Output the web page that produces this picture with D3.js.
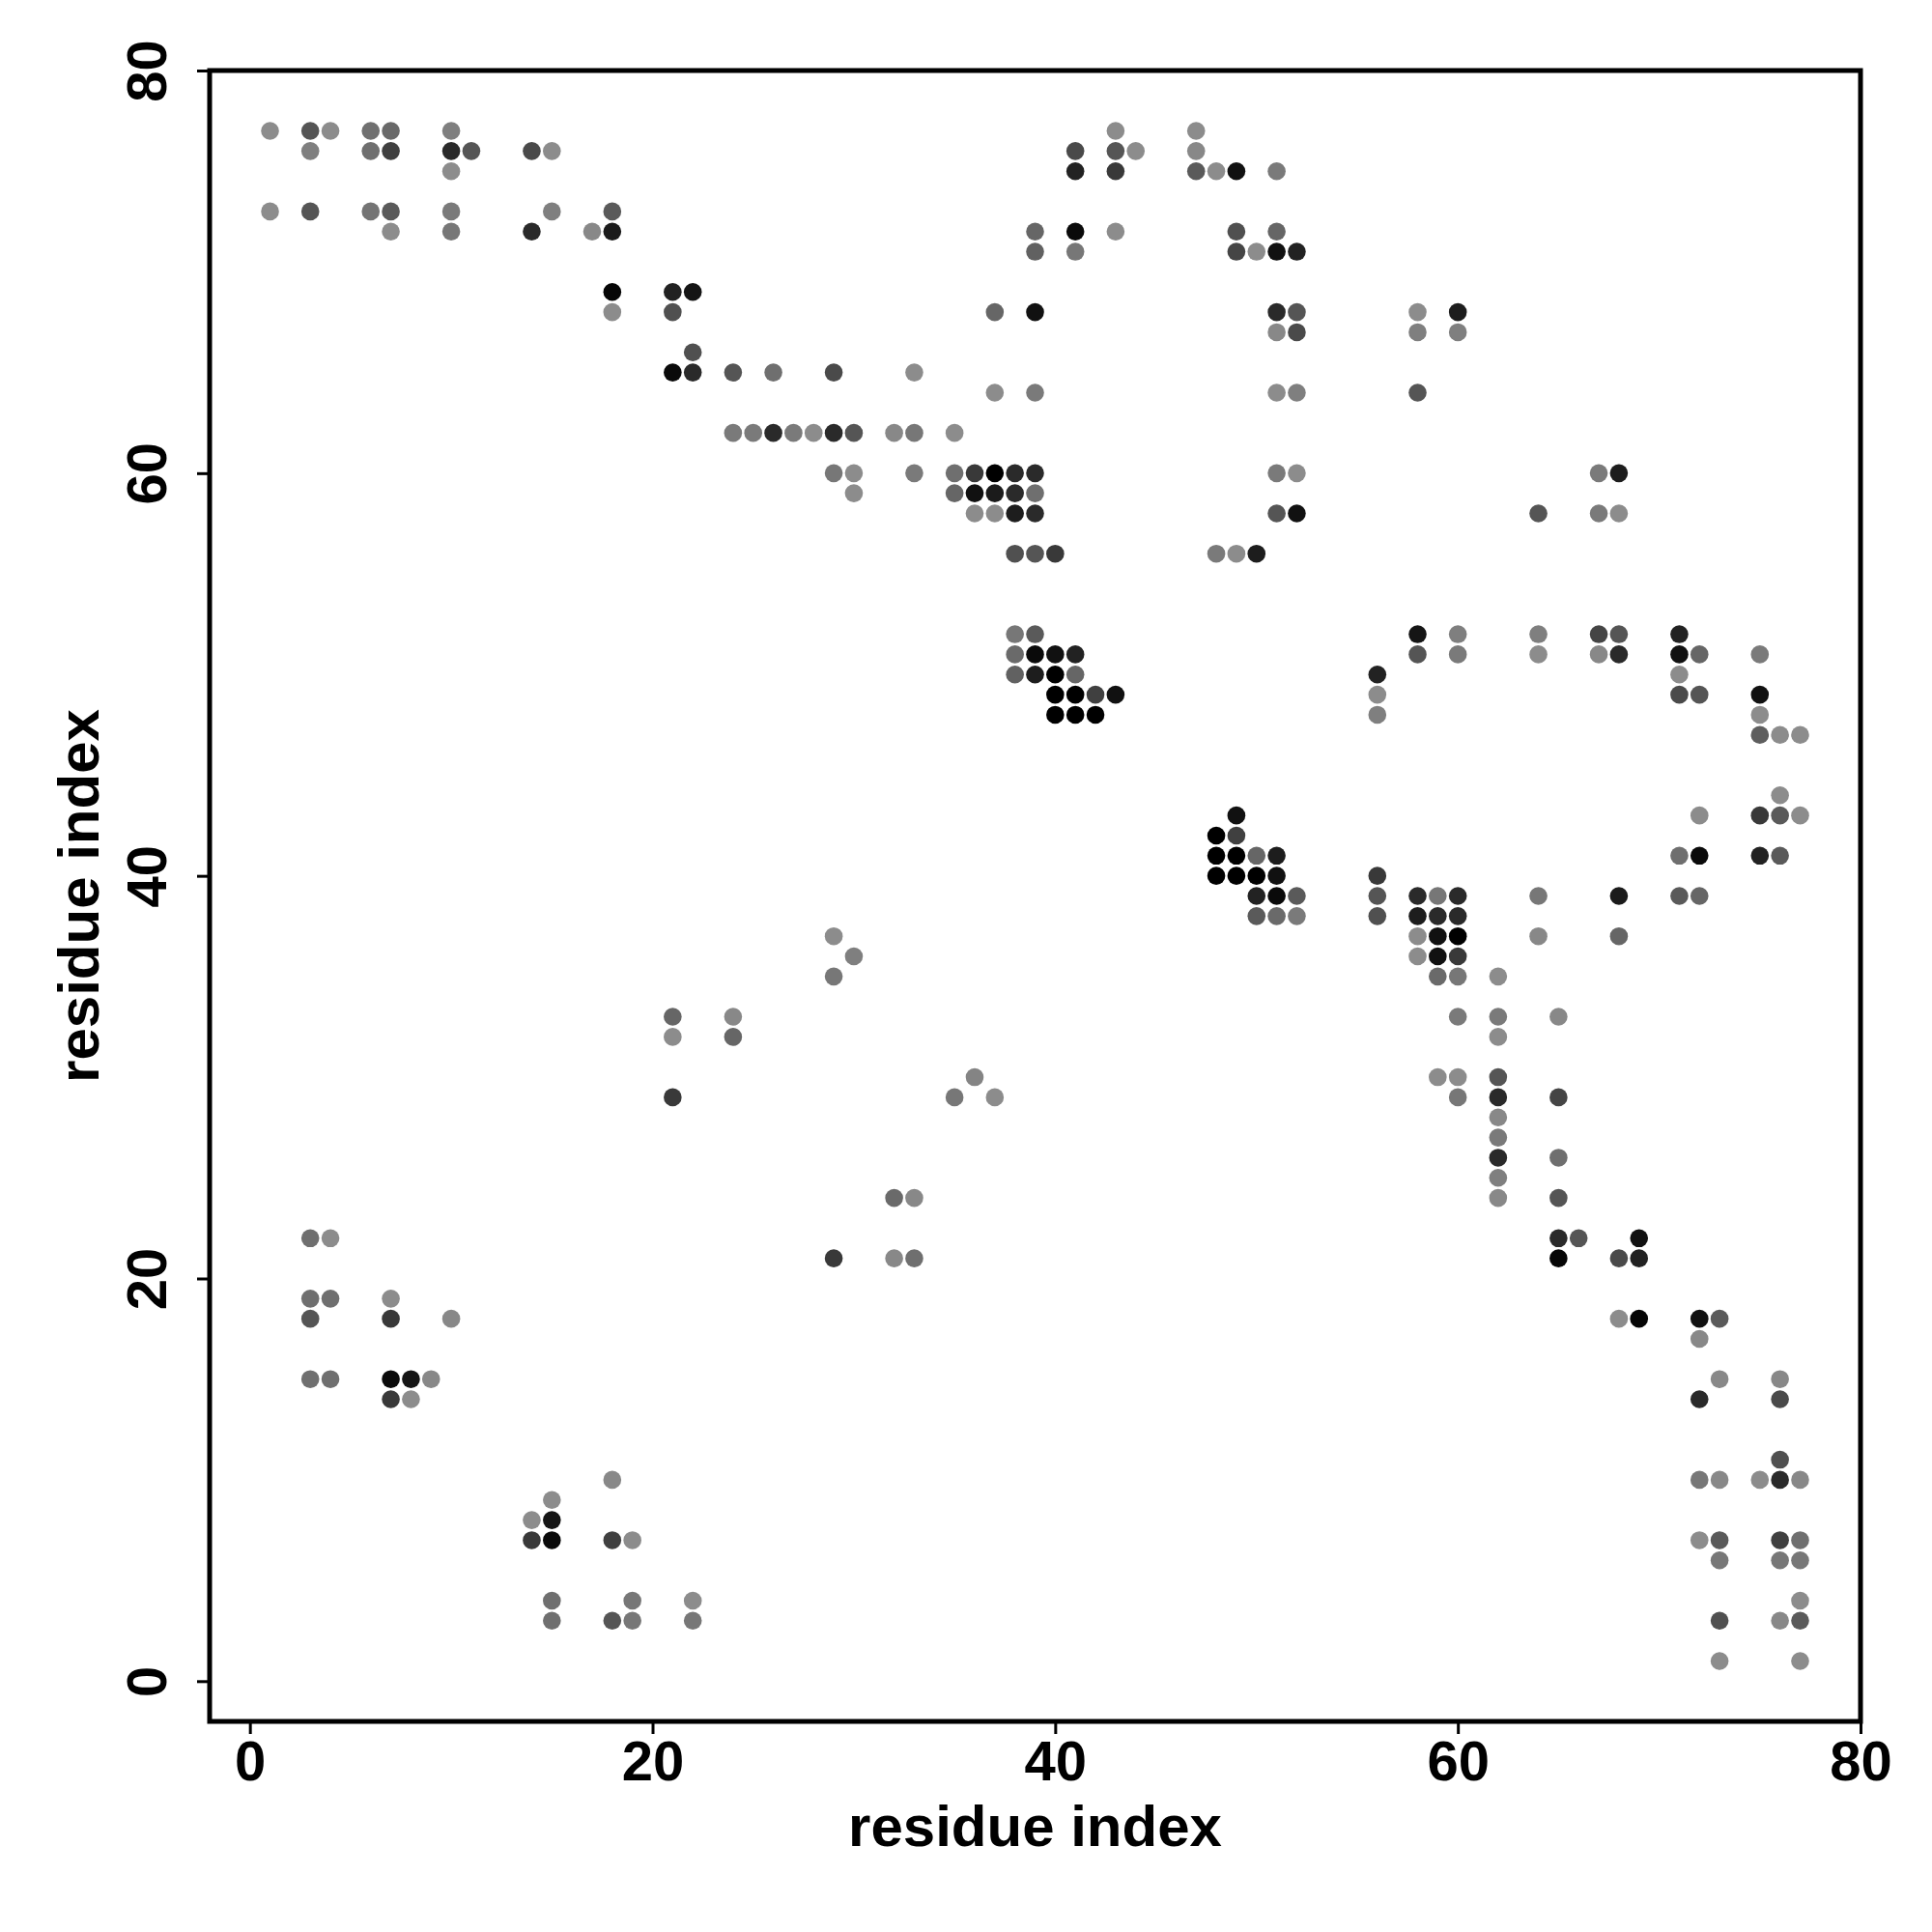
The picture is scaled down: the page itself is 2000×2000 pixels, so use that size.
<!DOCTYPE html>
<html>
<head>
<meta charset="UTF-8">
<script src="https://d3js.org/d3.v7.min.js"></script>
<style>
  body { margin: 0; background: #fff; }
  text { font-family: "Liberation Sans", Arial, Helvetica, sans-serif; font-weight: bold; }
</style>
</head>
<body>
<div id="chart"></div>
<script>
// contact map: [residue i, residue j, strength 0..1 (0 = light grey, 1 = black)]
var contacts = [
  [1,77,0.0],[3,77,0.39],[4,77,0.0],[6,77,0.2],[7,77,0.25],[10,77,0.09],[43,77,0.0],[47,77,0.0],
  [3,76,0.09],[6,76,0.21],[7,76,0.54],[10,76,0.7],[11,76,0.39],[14,76,0.47],[15,76,0.0],[41,76,0.47],[43,76,0.39],[44,76,0.0],[47,76,0.03],
  [10,75,0.0],[41,75,0.76],[43,75,0.59],[47,75,0.36],[48,75,0.0],[49,75,0.88],[51,75,0.13],
  [1,73,0.0],[3,73,0.39],[6,73,0.17],[7,73,0.36],[10,73,0.13],[15,73,0.09],[18,73,0.36],
  [7,72,0.0],[10,72,0.15],[14,72,0.7],[17,72,0.03],[18,72,0.81],[39,72,0.27],[41,72,0.93],[43,72,0.0],[49,72,0.43],[51,72,0.27],
  [39,71,0.31],[41,71,0.15],[49,71,0.51],[50,71,0.0],[51,71,0.88],[52,71,0.76],
  [18,69,0.96],[21,69,0.76],[22,69,0.85],
  [18,68,0.0],[21,68,0.43],[37,68,0.27],[39,68,0.88],[51,68,0.7],[52,68,0.39],[58,68,0.0],[60,68,0.79],
  [51,67,0.03],[52,67,0.47],[58,67,0.09],[60,67,0.09],
  [22,66,0.43],
  [21,65,0.93],[22,65,0.7],[24,65,0.39],[26,65,0.21],[29,65,0.47],[33,65,0.0],
  [37,64,0.0],[39,64,0.13],[51,64,0.0],[52,64,0.09],[58,64,0.39],
  [24,62,0.13],[25,62,0.13],[26,62,0.7],[27,62,0.13],[28,62,0.0],[29,62,0.7],[30,62,0.39],[32,62,0.03],[33,62,0.15],[35,62,0.0],
  [29,60,0.15],[30,60,0.0],[33,60,0.13],[35,60,0.21],[36,60,0.59],[37,60,1.0],[38,60,0.7],[39,60,0.7],[51,60,0.13],[52,60,0.0],[67,60,0.13],[68,60,0.79],
  [30,59,0.0],[35,59,0.27],[36,59,0.88],[37,59,0.81],[38,59,0.7],[39,59,0.21],
  [36,58,0.0],[37,58,0.0],[38,58,0.79],[39,58,0.7],[51,58,0.39],[52,58,0.88],[64,58,0.39],[67,58,0.13],[68,58,0.0],
  [38,56,0.43],[39,56,0.39],[40,56,0.59],[48,56,0.13],[49,56,0.0],[50,56,0.79],
  [38,52,0.15],[39,52,0.36],[58,52,0.85],[60,52,0.09],[64,52,0.09],[67,52,0.51],[68,52,0.39],[71,52,0.76],
  [38,51,0.24],[39,51,0.93],[40,51,0.88],[41,51,0.76],[58,51,0.39],[60,51,0.13],[64,51,0.0],[67,51,0.03],[68,51,0.7],[71,51,0.88],[72,51,0.27],[75,51,0.13],
  [38,50,0.31],[39,50,0.79],[40,50,1.0],[41,50,0.27],[56,50,0.76],[71,50,0.0],
  [40,49,1.0],[41,49,1.0],[42,49,0.54],[43,49,0.88],[56,49,0.0],[71,49,0.47],[72,49,0.39],[75,49,0.88],
  [40,48,1.0],[41,48,1.0],[42,48,1.0],[56,48,0.09],[75,48,0.0],
  [75,47,0.33],[76,47,0.0],[77,47,0.0],
  [76,44,0.0],
  [49,43,0.88],[72,43,0.0],[75,43,0.59],[76,43,0.36],[77,43,0.0],
  [48,42,1.0],[49,42,0.54],
  [48,41,1.0],[49,41,1.0],[50,41,0.27],[51,41,0.79],[71,41,0.21],[72,41,0.93],[75,41,0.76],[76,41,0.36],
  [48,40,1.0],[49,40,1.0],[50,40,1.0],[51,40,0.88],[56,40,0.59],
  [50,39,0.76],[51,39,0.93],[52,39,0.36],[56,39,0.39],[58,39,0.7],[59,39,0.15],[60,39,0.7],[64,39,0.15],[68,39,0.81],[71,39,0.36],[72,39,0.27],
  [50,38,0.36],[51,38,0.24],[52,38,0.13],[56,38,0.43],[58,38,0.79],[59,38,0.7],[60,38,0.7],
  [29,37,0.0],[58,37,0.0],[59,37,0.88],[60,37,1.0],[64,37,0.03],[68,37,0.27],
  [30,36,0.09],[58,36,0.0],[59,36,0.88],[60,36,0.59],
  [29,35,0.15],[59,35,0.24],[60,35,0.15],[62,35,0.0],
  [21,33,0.27],[24,33,0.03],[60,33,0.13],[62,33,0.13],[65,33,0.03],
  [21,32,0.0],[24,32,0.27],[62,32,0.0],
  [36,30,0.06],[59,30,0.0],[60,30,0.0],[62,30,0.39],
  [21,29,0.59],[35,29,0.15],[37,29,0.0],[60,29,0.15],[62,29,0.7],[65,29,0.51],
  [62,28,0.03],
  [62,27,0.13],
  [62,26,0.7],[65,26,0.21],
  [62,25,0.09],
  [32,24,0.24],[33,24,0.03],[62,24,0.03],[65,24,0.39],
  [3,22,0.21],[4,22,0.0],[65,22,0.7],[66,22,0.39],[69,22,0.88],
  [29,21,0.59],[32,21,0.03],[33,21,0.21],[65,21,0.96],[68,21,0.47],[69,21,0.76],
  [3,19,0.21],[4,19,0.21],[7,19,0.0],
  [3,18,0.39],[7,18,0.59],[10,18,0.03],[68,18,0.0],[69,18,0.96],[72,18,0.88],[73,18,0.36],
  [72,17,0.03],
  [3,15,0.21],[4,15,0.21],[7,15,0.93],[8,15,0.85],[9,15,0.03],[73,15,0.03],[76,15,0.03],
  [7,14,0.59],[8,14,0.0],[72,14,0.7],[76,14,0.47],
  [76,11,0.43],
  [18,10,0.03],[72,10,0.15],[73,10,0.03],[75,10,0.0],[76,10,0.7],[77,10,0.03],
  [15,9,0.0],
  [14,8,0.0],[15,8,0.85],
  [14,7,0.59],[15,7,0.93],[18,7,0.54],[19,7,0.0],[72,7,0.0],[73,7,0.36],[76,7,0.54],[77,7,0.21],
  [73,6,0.15],[76,6,0.15],[77,6,0.15],
  [15,4,0.21],[19,4,0.15],[22,4,0.0],[77,4,0.0],
  [15,3,0.21],[18,3,0.39],[19,3,0.15],[22,3,0.15],[73,3,0.43],[76,3,0.03],[77,3,0.36],
  [73,1,0.0],[77,1,0.0]
];
var xTicks = [0, 20, 40, 60, 80];
var yTicks = [0, 20, 40, 60, 80];
var xTitle = "residue index";
var yTitle = "residue index";

var width = 2000, height = 2000;
var plotLeft = 217, plotRight = 1926, plotTop = 73, plotBottom = 1782;

var svg = d3.select("#chart").append("svg")
  .attr("width", width)
  .attr("height", height);

var x = d3.scaleLinear().domain([-2, 80]).range([plotLeft, plotRight]);
var y = d3.scaleLinear().domain([-2, 80]).range([plotBottom, plotTop]);
var shade = d3.scaleLinear().domain([0, 1]).range(["#8c8c8c", "#000000"]);

svg.append("g")
  .selectAll("circle")
  .data(contacts)
  .enter()
  .append("circle")
  .attr("cx", function (d) { return x(d[0]); })
  .attr("cy", function (d) { return y(d[1]); })
  .attr("r", 9.3)
  .attr("fill", function (d) { return shade(d[2]); });

// frame
svg.append("rect")
  .attr("x", plotLeft)
  .attr("y", plotTop)
  .attr("width", plotRight - plotLeft)
  .attr("height", plotBottom - plotTop)
  .attr("fill", "none")
  .attr("stroke", "#000")
  .attr("stroke-width", 5);

var gx = svg.append("g")
  .attr("transform", "translate(0," + (plotBottom + 2) + ")")
  .call(d3.axisBottom(x).tickValues(xTicks).tickSize(11).tickPadding(7));
gx.select(".domain").remove();
gx.selectAll(".tick line").attr("stroke-width", 3);
gx.selectAll("text").attr("font-size", 58).attr("fill", "#000");

var gy = svg.append("g")
  .attr("transform", "translate(" + (plotLeft - 2) + ",0)")
  .call(d3.axisLeft(y).tickValues(yTicks).tickSize(11));
gy.select(".domain").remove();
gy.selectAll(".tick line").attr("stroke-width", 3);
gy.selectAll("text")
  .attr("x", 0)
  .attr("dy", 0)
  .attr("font-size", 58)
  .attr("fill", "#000")
  .attr("text-anchor", "middle")
  .attr("transform", "translate(-43,0) rotate(-90)");

svg.append("text")
  .attr("x", (plotLeft + plotRight) / 2)
  .attr("y", 1911)
  .attr("text-anchor", "middle")
  .attr("font-size", 60)
  .text(xTitle);

svg.append("text")
  .attr("transform", "translate(102," + (plotTop + plotBottom) / 2 + ") rotate(-90)")
  .attr("text-anchor", "middle")
  .attr("font-size", 60)
  .text(yTitle);
</script>
</body>
</html>
